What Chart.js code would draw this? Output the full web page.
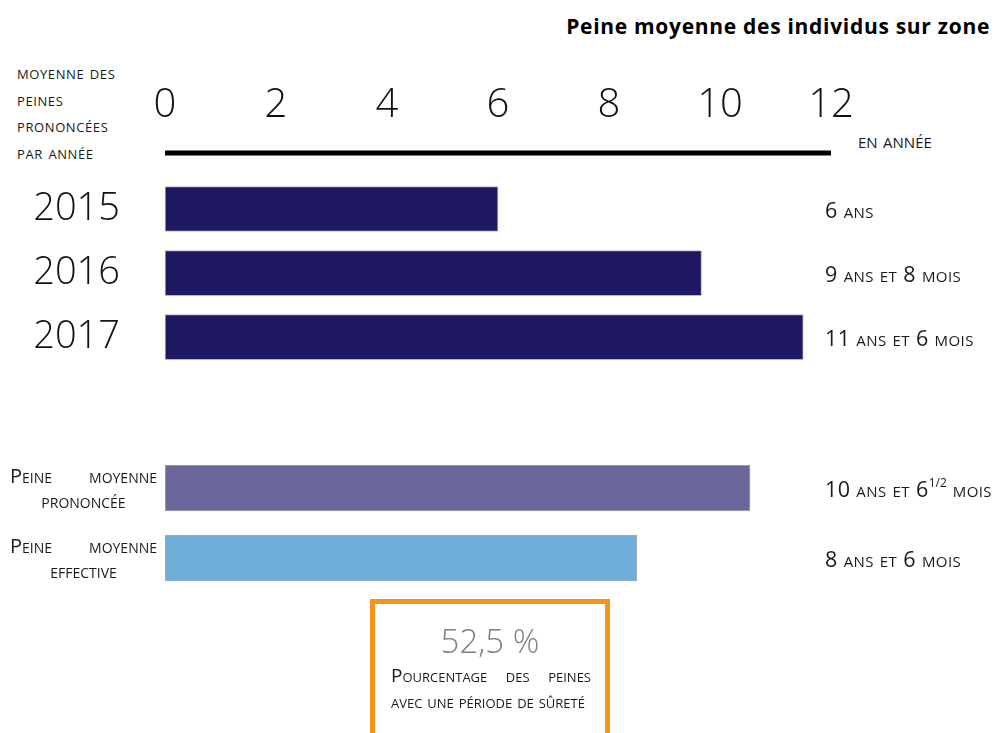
<!DOCTYPE html>
<html lang="fr">
<head>
<meta charset="utf-8">
<title>Peine moyenne des individus sur zone</title>
<script src="https://cdn.jsdelivr.net/npm/chart.js@4.4.1/dist/chart.umd.min.js"></script>
<style>
  body { margin: 0; background: #fff; font-family: "Open Sans", sans-serif; color: #1a1a1a; }
  #page { position: relative; width: 996px; height: 733px; overflow: hidden; }
  .abs { position: absolute; }
  .sc { font-variant: small-caps; }
  #title { right: 6px; top: 12px; font-size: 21px; letter-spacing: 0.7px; font-weight: 700; color: #000; }
  #unitNote { left: 17px; top: 59px; font-size: 19px; letter-spacing: 0.6px; line-height: 26.5px; }
  #unitX { left: 858px; top: 126px; font-size: 21px; }
  #years { left: 0; top: 0; width: 996px; height: 392px; }
  #average { left: 0; top: 440px; width: 996px; height: 160px; }
  .val { left: 825px; font-size: 21.5px; letter-spacing: 0.4px; white-space: nowrap; transform: translateY(-50%); }
  .val sup { font-size: 12px; vertical-align: 10px; font-variant: normal; letter-spacing: 0; }
  .cat { left: 10px; width: 147px; font-size: 20px; line-height: 25px; transform: translateY(-50%); }
  .cat .l1 { text-align: justify; text-align-last: justify; }
  .cat .l2 { text-align: center; }
  #box { left: 370px; top: 599px; width: 230px; height: 200px; border: 5px solid #f7941d; }
  #pct { width: 100%; text-align: center; top: 14px; font-size: 33px; font-weight: 300; color: #7f7f7f; }
  #pctText { left: 16px; width: 200px; top: 58px; font-size: 19px; line-height: 26px; white-space: nowrap; }
  #pctText .l1 { text-align: justify; text-align-last: justify; }
</style>
</head>
<body>
<div id="page">
  <div id="title" class="abs">Peine moyenne des individus sur zone</div>
  <div id="unitNote" class="abs sc">moyenne des<br>peines<br>prononcées<br>par année</div>
  <div id="unitX" class="abs sc">en année</div>
  <div id="years" class="abs"><canvas id="yearsChart" width="996" height="392"></canvas></div>
  <div id="average" class="abs"><canvas id="averageChart" width="996" height="160"></canvas></div>
  <div id="box" class="abs">
    <div id="pct" class="abs">52,5 %</div>
    <div id="pctText" class="abs sc">
      <div class="l1">Pourcentage des peines</div>
      <div>avec une période de sûreté</div>
    </div>
  </div>
</div>
<script>
// sentence lengths, given as years + months
const yearLabels = ['2015', '2016', '2017'];
const yearYears = [6, 9, 11];
const yearMonths = [0, 8, 6];

const averageLabels = ['Peine moyenne prononcée', 'Peine moyenne effective'];
const averageYears = [10, 8];
const averageMonths = [6.5, 6];

const xTicks = [0, 2, 4, 6, 8, 10, 12];

const toYears = (y, m) => y + m / 12;

function durationText(y, m) {
  let txt = y + ' ans';
  if (m) {
    const whole = Math.floor(m);
    const half = m - whole ? '<sup>1/2</sup>' : '';
    txt += ' et ' + whole + half + ' mois';
  }
  return txt;
}

const page = document.getElementById('page');

// duration text on the right of each bar, placed from the y scale
function addValueLabels(chart, years, months) {
  const y = chart.scales.y;
  const top = chart.canvas.parentNode.offsetTop;
  years.forEach((v, i) => {
    const el = document.createElement('div');
    el.className = 'abs sc val';
    el.innerHTML = durationText(v, months[i]);
    el.style.top = (top + y.getPixelForValue(i)) + 'px';
    page.appendChild(el);
  });
}

// thick axis line under the tick numbers
const axisLine = {
  id: 'axisLine',
  afterDraw(chart) {
    const x = chart.scales.x;
    const ctx = chart.ctx;
    ctx.save();
    ctx.strokeStyle = '#000';
    ctx.lineWidth = 5;
    ctx.beginPath();
    ctx.moveTo(x.left, chart.chartArea.top - 24);
    ctx.lineTo(x.right, chart.chartArea.top - 24);
    ctx.stroke();
    ctx.restore();
  }
};

const fixLeft = scale => { scale.width = 165; };

const yearsChart = new Chart(document.getElementById('yearsChart'), {
  type: 'bar',
  data: {
    labels: yearLabels,
    datasets: [{
      data: yearYears.map((y, i) => toYears(y, yearMonths[i])),
      backgroundColor: '#1e1862',
      borderColor: '#b8b8c4',
      borderWidth: 1,
      borderSkipped: false,
      barThickness: 45
    }]
  },
  options: {
    indexAxis: 'y',
    responsive: false,
    animation: false,
    maintainAspectRatio: false,
    layout: { padding: { top: 35, right: 165, bottom: 0, left: 0 } },
    plugins: { legend: { display: false }, tooltip: { enabled: false } },
    scales: {
      x: {
        position: 'top',
        min: 0,
        max: 12,
        afterBuildTicks: scale => { scale.ticks = xTicks.map(v => ({ value: v })); },
        grid: { display: false, drawTicks: false },
        border: { display: false },
        ticks: {
          padding: 47,
          maxRotation: 0,
          color: '#111',
          font: { family: 'Open Sans', size: 40, weight: 300 }
        }
      },
      y: {
        afterFit: fixLeft,
        // invisible tick marks keep the year labels 45px left of the bars
        grid: { display: false, drawTicks: true, tickLength: 45 },
        border: { display: false },
        ticks: {
          padding: 0,
          autoSkip: false,
          color: '#111',
          font: { family: 'Open Sans', size: 38, weight: 300 }
        }
      }
    }
  },
  plugins: [axisLine]
});

const averageChart = new Chart(document.getElementById('averageChart'), {
  type: 'bar',
  data: {
    labels: averageLabels,
    datasets: [{
      data: averageYears.map((y, i) => toYears(y, averageMonths[i])),
      backgroundColor: ['#6a6699', '#6eaed9'],
      borderColor: '#a9a9b8',
      borderWidth: 1,
      borderSkipped: false,
      barThickness: 46
    }]
  },
  options: {
    indexAxis: 'y',
    responsive: false,
    animation: false,
    maintainAspectRatio: false,
    layout: { padding: { top: 13, right: 165, bottom: 7, left: 0 } },
    plugins: { legend: { display: false }, tooltip: { enabled: false } },
    scales: {
      x: { display: false, min: 0, max: 12 },
      y: {
        afterFit: fixLeft,
        grid: { display: false, drawTicks: false },
        border: { display: false },
        ticks: { display: false }
      }
    }
  }
});

// category names for the second group, two lines each
averageLabels.forEach((label, i) => {
  const words = label.split(' ');
  const el = document.createElement('div');
  el.className = 'abs sc cat';
  el.innerHTML = '<div class="l1">' + words.slice(0, 2).join(' ') + '</div>' +
    '<div class="l2">' + words.slice(2).join(' ') + '</div>';
  el.style.top = (440 + averageChart.scales.y.getPixelForValue(i)) + 'px';
  page.appendChild(el);
});

addValueLabels(yearsChart, yearYears, yearMonths);
addValueLabels(averageChart, averageYears, averageMonths);
</script>
</body>
</html>
